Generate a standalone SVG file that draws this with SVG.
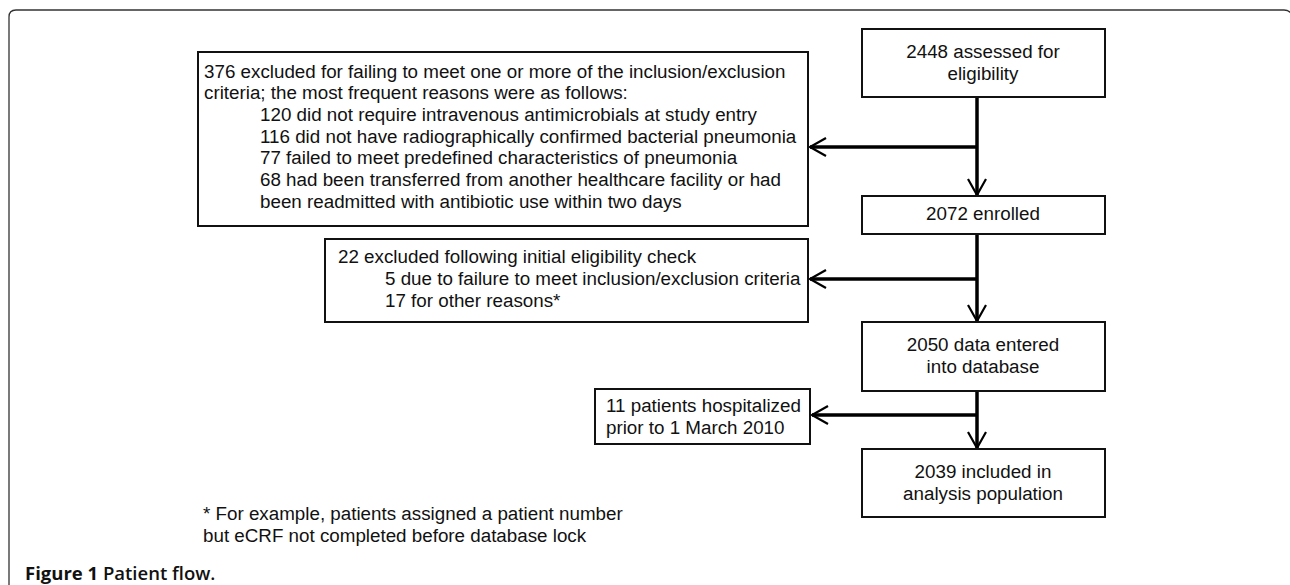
<svg xmlns="http://www.w3.org/2000/svg" width="1290" height="585" viewBox="0 0 1290 585">
<defs>
<style>
.box{fill:#fff;stroke:#111;stroke-width:2}
.t{font-family:"Liberation Sans",Arial,sans-serif;font-size:18.8px;fill:#111}
.c{text-anchor:middle}
.conn{stroke:#000;stroke-width:3.5;fill:none}
.cap{font-family:"Open Sans","Noto Sans",sans-serif;font-size:18.5px;fill:#111}
</style>
<marker id="ah" markerUnits="userSpaceOnUse" markerWidth="24" markerHeight="24" viewBox="-18 -12 20 24" refX="0" refY="0" orient="auto">
<path d="M-16,-9 L0,0 L-16,9" fill="none" stroke="#000" stroke-width="2.2"/>
</marker>
</defs>
<rect width="1290" height="585" fill="#fff"/>
<path d="M9,585 L9,17 Q9,10 16,10 L1284,10 Q1290,10 1293,16" fill="none" stroke="#333" stroke-width="1.3"/>

<g id="connectors">
<line class="conn" x1="977" y1="97" x2="977" y2="195" marker-end="url(#ah)"/>
<line class="conn" x1="977" y1="147" x2="810" y2="147" marker-end="url(#ah)"/>
<line class="conn" x1="977" y1="234" x2="977" y2="321" marker-end="url(#ah)"/>
<line class="conn" x1="977" y1="279" x2="810" y2="279" marker-end="url(#ah)"/>
<line class="conn" x1="977" y1="391" x2="977" y2="448" marker-end="url(#ah)"/>
<line class="conn" x1="977" y1="415" x2="812" y2="415" marker-end="url(#ah)"/>
</g>

<g id="assessed">
<rect class="box" x="862" y="29" width="243" height="68"/>
<text class="t c" x="983" y="58">2448 assessed for</text>
<text class="t c" x="983" y="80">eligibility</text>
</g>

<g id="excluded376">
<rect class="box" x="198" y="52" width="610" height="174"/>
<text class="t" x="204" y="78">376 excluded for failing to meet one or more of the inclusion/exclusion</text>
<text class="t" x="204" y="99">criteria; the most frequent reasons were as follows:</text>
<text class="t" x="260" y="121">120 did not require intravenous antimicrobials at study entry</text>
<text class="t" x="260" y="143">116 did not have radiographically confirmed bacterial pneumonia</text>
<text class="t" x="260" y="164">77 failed to meet predefined characteristics of pneumonia</text>
<text class="t" x="260" y="186">68 had been transferred from another healthcare facility or had</text>
<text class="t" x="260" y="208">been readmitted with antibiotic use within two days</text>
</g>

<g id="enrolled">
<rect class="box" x="862" y="196" width="243" height="38"/>
<text class="t c" x="983" y="220">2072 enrolled</text>
</g>

<g id="excluded22">
<rect class="box" x="325" y="239" width="483" height="83"/>
<text class="t" x="338" y="263">22 excluded following initial eligibility check</text>
<text class="t" x="385" y="285">5 due to failure to meet inclusion/exclusion criteria</text>
<text class="t" x="385" y="307">17 for other reasons*</text>
</g>

<g id="dataentered">
<rect class="box" x="862" y="322" width="243" height="69"/>
<text class="t c" x="983" y="351">2050 data entered</text>
<text class="t c" x="983" y="373">into database</text>
</g>

<g id="hospitalized">
<rect class="box" x="595" y="389" width="215" height="55"/>
<text class="t" x="606" y="412">11 patients hospitalized</text>
<text class="t" x="606" y="434">prior to 1 March 2010</text>
</g>

<g id="included">
<rect class="box" x="862" y="449" width="243" height="68"/>
<text class="t c" x="983" y="478">2039 included in</text>
<text class="t c" x="983" y="500">analysis population</text>
</g>

<g id="footnote">
<text class="t" x="203" y="520">* For example, patients assigned a patient number</text>
<text class="t" x="203" y="542">but eCRF not completed before database lock</text>
</g>

<text class="cap" x="25" y="580"><tspan font-weight="bold">Figure 1</tspan> <tspan font-weight="600">Patient flow.</tspan></text>
</svg>
